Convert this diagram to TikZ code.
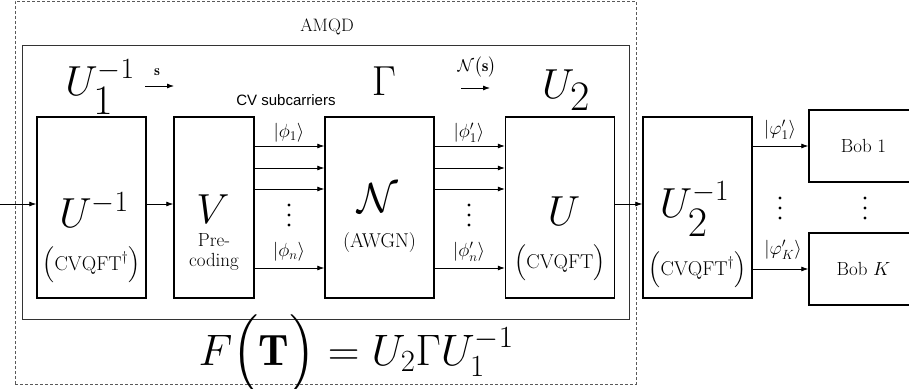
\RequirePackage{fix-cm}
\documentclass[tikz,border=0pt]{standalone}
\usepackage{amsmath,amssymb}
\usepackage{fontspec}
\newfontfamily\arialfont{Liberation Sans}
\usetikzlibrary{arrows.meta}

\tikzset{
  blk/.style={draw, line width=1.4pt, minimum width=109pt, minimum height=181pt, inner sep=0pt},
  arr/.style={-{Latex[length=7pt,width=5pt]}, line width=0.8pt},
  big/.style={font=\fontsize{42}{46}\selectfont},
  mid/.style={font=\fontsize{20}{22}\selectfont},
  ket/.style={font=\fontsize{19}{21}\selectfont},
}

\begin{document}
\begin{tikzpicture}[x=1pt, y=-1pt]
  \useasboundingbox (0,0) rectangle (909,388);
  % Dashed AMQD frame and inner frame
  \node[draw, gray!70!black, line width=0.7pt, dash pattern=on 3pt off 2pt,
        minimum width=621pt, minimum height=383pt] (amqd) at (325.5,192.5) {};
  \node[draw, black!80, line width=0.7pt,
        minimum width=607pt, minimum height=274pt] (inner) at (325.5,182) {};
  \node[font=\fontsize{18}{20}\selectfont] (amqdtxt) at (327,27) {AMQD};
  % Blocks
  \node[blk] (uinv) at (91.5,207.5) {};
  \node[blk, minimum width=80pt] (prec) at (214,207.5) {};
  \node[blk] (awgn) at (379.5,207.5) {};
  \node[blk] (cvqft) at (560,207.5) {};
  \node[blk] (uinv2) at (697.5,207.5) {};
  \node[blk, minimum height=72pt, font=\fontsize{19}{21}\selectfont] (bob1) at (863.5,146) {Bob 1};
  \node[blk, minimum height=72pt, font=\fontsize{19}{21}\selectfont] (bobk) at (863.5,269) {Bob $K$};
  % Block contents
  \node[big, anchor=base] (uinvtxt) at (94,227) {$U^{-1}$};
  \node[mid] (uinvsub) at (91.5,265) {$\Bigl(\mathrm{CVQFT}^{\dagger}\Bigr)$};
  \node[big, anchor=base] (prectxt) at (213,223) {$V$};
  \node[align=center, font=\fontsize{19}{20}\selectfont] (precsub) at (214,252) {Pre-\\coding};
  \node[big, anchor=base] (awgntxt) at (378,212) {$\mathcal{N}$};
  \node[mid] (awgnsub) at (379.5,243) {(AWGN)};
  \node[big, anchor=base] (cvqfttxt) at (564,225) {$U$};
  \node[mid] (cvqftsub) at (560,263) {$\Bigl(\mathrm{CVQFT}\Bigr)$};
  \node[big, anchor=base] (uinv2txt) at (694.5,217) {$U_{\displaystyle 2}^{-1}$};
  \node[mid] (uinv2sub) at (697.5,270) {$\Bigl(\mathrm{CVQFT}^{\dagger}\Bigr)$};
  % Main signal path
  \coordinate (in) at (0,204);
  \draw[arr] (in) -- (uinv.west |- in);
  \draw[arr] (uinv.east |- in) -- (prec.west |- in);
  \draw[arr] (cvqft.east |- in) -- (uinv2.west |- in);
  % Subcarriers
  \foreach \y in {146,168,189,268} {
    \coordinate (row) at (0,\y);
    \draw[arr] (prec.east |- row) -- (awgn.west |- row);
    \draw[arr] (awgn.east |- row) -- (cvqft.west |- row);
  }
  \draw[arr] (uinv2.east |- bob1) -- (bob1.west);
  \draw[arr] (uinv2.east |- bobk) -- (bobk.west);
  % Ket labels
  \node[font=\arialfont\fontsize{15}{17}\selectfont] (subc) at (286,100) {CV subcarriers};
  \node[ket] (k1) at (289,133) {$\left|\phi_1\right\rangle$};
  \node[ket] (kn) at (289,252) {$\left|\phi_n\right\rangle$};
  \node[ket] (k1p) at (469,133) {$\left|\phi'_1\right\rangle$};
  \node[ket] (knp) at (469,252) {$\left|\phi'_n\right\rangle$};
  \node[ket] (kb1) at (780,130) {$\left|\varphi'_1\right\rangle$};
  \node[ket] (kbk) at (783,250) {$\left|\varphi'_K\right\rangle$};
  % Vertical dots
  \foreach \x/\y in {289/205, 469/205, 780/198, 865/198} {
    \foreach \k in {0,10,20}
      \fill (\x,\y+\k) circle (1.6pt);
  }
  % Top row: U_1^{-1}, Gamma, U_2
  \node[big, anchor=base] (u1top) at (100,95) {$U_{\displaystyle 1}^{-1}$};
  \coordinate (s0) at (145,86);
  \coordinate (s1) at (174,86);
  \draw[arr] (s0) -- (s1);
  \node[font=\fontsize{15}{17}\selectfont] (stxt) at (157,72) {$\mathbf{s}$};
  \node[big, anchor=base] (gam) at (384,95) {$\Gamma$};
  \coordinate (n0) at (461,88);
  \coordinate (n1) at (490,88);
  \draw[arr] (n0) -- (n1);
  \node[font=\fontsize{17}{19}\selectfont] (ntxt) at (477,67) {$\mathcal{N}\bigl(\mathbf{s}\bigr)$};
  \node[big, anchor=base] (u2top) at (566,98) {$U_{\displaystyle 2}$};
  % Overall transfer
  \node[font=\fontsize{44}{48}\selectfont, anchor=base] (ftxt) at (356,365)
    {$F\Bigl(\mathbf{T}\Bigr) = U_2\Gamma U_1^{-1}$};
\end{tikzpicture}
\end{document}
